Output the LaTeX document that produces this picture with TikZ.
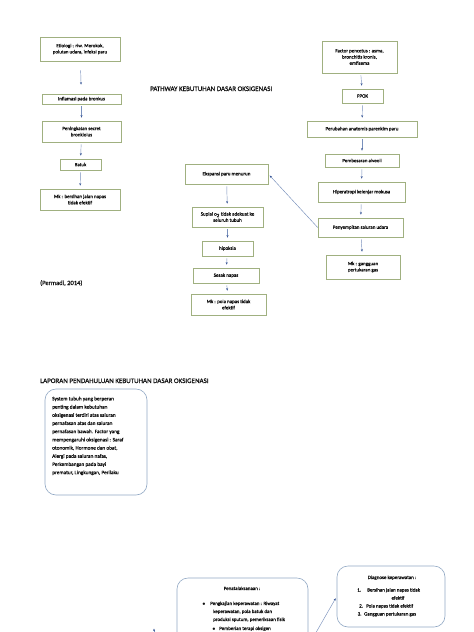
\documentclass[tikz,border=0pt]{standalone}
\usepackage{fontspec}
\setmainfont{Carlito}
\newfontfamily\semib[FakeBold=0.5]{Carlito}
\usetikzlibrary{arrows.meta,calc}
\definecolor{gb}{RGB}{160,176,128}
\definecolor{rb}{RGB}{145,168,196}
\definecolor{ac}{RGB}{120,144,188}
\definecolor{ah}{RGB}{55,85,150}
\definecolor{tx}{RGB}{15,15,15}
\begin{document}
\begin{tikzpicture}[x=1pt,y=-1pt,
  gbox/.style={draw=gb, line width=0.6pt, align=center, inner sep=1pt, font=\semib\fontsize{5}{6.2}\selectfont, text=tx},
  rbox/.style={draw=rb, line width=0.6pt, rounded corners=11pt},
  arr/.style={draw=ac, line width=0.45pt, -{Stealth[length=2.6pt,width=2pt,color=ah]}, shorten <=2pt, shorten >=3pt},
  title/.style={anchor=base west, inner sep=0pt, font=\semib\fontsize{7}{8}\selectfont, text=tx},
  small/.style={inner sep=0pt, font=\semib\fontsize{5}{6}\selectfont, text=tx, anchor=base west},
  para/.style={inner sep=0pt, font=\semib\fontsize{5.3}{8.2}\selectfont, text=tx, align=left, anchor=north west}]
\useasboundingbox (0,0) rectangle (474,632);
\fill[white] (0,0) rectangle (474,632);

% left column
\node[gbox, minimum width=80, minimum height=24] (etio) at (80,49) {Etiologi : riw. Merokok,\\ polutan udara, infeksi paru};
\node[gbox, minimum width=79, minimum height=10] (infl) at (81.5,99) {Inflamasi pada bronkus};
\node[gbox, minimum width=79, minimum height=21] (peni) at (81.5,131.5) {Peningkatan secret\\ bronkiolus};
\node[gbox, minimum width=41, minimum height=11] (batuk) at (80.5,164.5) {Batuk};
\node[gbox, minimum width=80, minimum height=21] (mka) at (80,199.5) {Mk : bersihan jalan napas\\ tidak efektif};

% right column
\node[gbox, minimum width=75, minimum height=32] (fact) at (359.5,57) {Factor pencetus : asma,\\ bronchitis kronis,\\ emfisema};
\node[gbox, minimum width=41, minimum height=14] (ppok) at (362.5,96) {PPOK};
\node[gbox, minimum width=110, minimum height=16] (perub) at (362,129) {Perubahan anatomis parenkim paru};
\node[gbox, minimum width=74, minimum height=13] (pemb) at (362,160.5) {Pembesaran alveoli};
\node[gbox, minimum width=87, minimum height=20] (hiper) at (361.5,192) {Hiperatropi kelenjar mokusa};
\node[gbox, minimum width=85, minimum height=19] (peny) at (360.5,227.5) {Penyempitan saluran udara};
\node[gbox, minimum width=74, minimum height=24] (mkc) at (363,267) {Mk : gangguan\\ pertukaran gas};

% middle column
\node[gbox, minimum width=83, minimum height=20] (eksp) at (226.5,174) {Ekspansi paru menurun};
\node[gbox, minimum width=71, minimum height=20] (supl) at (227.5,217) {Suplai o\textsubscript{2} tidak adekuat ke\\ seluruh tubuh};
\node[gbox, minimum width=51, minimum height=15] (hipo) at (227.5,248.5) {hipoksia};
\node[gbox, minimum width=66, minimum height=15] (sesak) at (226,275.5) {Sesak napas};
\node[gbox, minimum width=75, minimum height=21] (mkb) at (228.5,304.5) {Mk : pola napas tidak\\ efektif};

% arrows
\draw[arr, shorten <=9pt, shorten >=9pt] (etio) -- (infl);
\draw[arr] (infl) -- (peni);
\draw[arr] (peni) -- (batuk);
\draw[arr] (batuk) -- (mka);
\draw[arr] (fact) -- (ppok);
\draw[arr] (ppok) -- (perub);
\draw[arr] (perub) -- (pemb);
\draw[arr] (pemb) -- (hiper);
\draw[arr] (hiper) -- (peny);
\draw[arr] (peny) -- (mkc);
\draw[arr] (eksp) -- (supl);
\draw[arr] (supl) -- (hipo);
\draw[arr] (hipo) -- (sesak);
\draw[arr] (sesak) -- (mkb);
\draw[arr, shorten <=0pt, shorten >=2pt] (peny.west) -- (eksp.east);

% titles
\node[title] (t1) at (150,91) {PATHWAY KEBUTUHAN DASAR OKSIGENASI};
\node[title, font=\semib\fontsize{6.5}{8}\selectfont] (t2) at (40,285) {(Permadi, 2014)};
\node[title] (t3) at (40,383) {LAPORAN PENDAHULUAN KEBUTUHAN DASAR OKSIGENASI};

% rounded box left
\node[rbox, minimum width=102, minimum height=106] (sys) at (96,442) {};
\node[para] (systxt) at (52,396.5) {System tubuh yang berperan\\
penting dalam kebutuhan\\
oksigenasi terdiri atas saluran\\
pernafasan atas dan saluran\\
pernafasan bawah. Factor yang\\
mempengaruhi oksigenasi : Saraf\\
otonomik, Hormone dan obat,\\
Alergi pada saluran nafas,\\
Perkembangan pada bayi\\
prematur, Lingkungan, Perilaku};

% Penatalaksanaan box
\node[rbox, minimum width=131, minimum height=80] (pena) at (242.5,618) {};
\node[small, anchor=base] (p0) at (242,590) {Penatalaksanaan :};
\node[small] (p1b) at (202,605) {$\bullet$};
\node[small] (p1) at (210,605) {Pengkajian keperawatan : Riwayat};
\node[small] (p2) at (213,613) {keperawatan, pola batuk dan};
\node[small] (p3) at (213,621) {produksi sputum, pemeriksaan fisik};
\node[small] (p4b) at (212,630) {$\bullet$};
\node[small] (p4) at (219,630) {Pemberian terapi oksigen};

% Diagnose box
\node[rbox, minimum width=108, minimum height=61] (diag) at (391,596.5) {};
\node[small, anchor=base] (d0) at (392,579) {Diagnose keperawatan :};
\node[small] (d1n) at (357,591.5) {1.};
\node[small] (d1) at (367,591.5) {Bersihan jalan napas tidak};
\node[small, anchor=base] (d1c) at (398,599.5) {efektif};
\node[small] (d2n) at (359,607.5) {2.};
\node[small] (d2) at (366,607.5) {Pola napas tidak efektif};
\node[small] (d3n) at (357.5,615.5) {3.};
\node[small] (d3) at (364,615.5) {Gangguan pertukaran gas};

% bottom arrows
\coordinate (b1) at (314,636);
\draw[arr, shorten <=0pt, shorten >=2pt] (b1) -- (diag.west);
\coordinate (b2) at (154,640);
\coordinate (b3) at (154,628.5);
\draw[arr, shorten <=0pt, shorten >=0pt] (b2) -- (b3);
\end{tikzpicture}
\end{document}
